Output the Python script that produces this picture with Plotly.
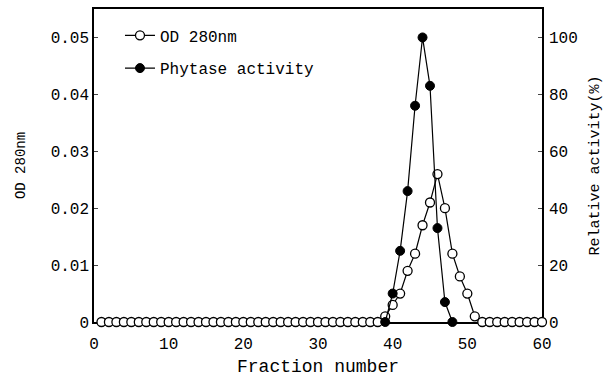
import plotly.graph_objects as go

fractions = list(range(1, 61))
od280 = [0.0] * 38 + [0.001, 0.003, 0.005, 0.009, 0.012, 0.017, 0.021, 0.026,
                      0.020, 0.012, 0.008, 0.005, 0.001] + [0.0] * 9
phy_fractions = [39, 40, 41, 42, 43, 44, 45, 46, 47, 48]
phytase = [0, 10, 25, 46, 76, 100, 83, 33, 7, 0]

FONT = "Liberation Mono"
fig = go.Figure()
fig.add_trace(go.Scatter(
    x=fractions, y=od280, name="OD 280nm", mode="lines+markers",
    line=dict(color="black", width=1.2),
    marker=dict(symbol="circle", size=9, color="white", line=dict(color="black", width=1.3)),
    cliponaxis=False, legendgroup="a"))
fig.add_trace(go.Scatter(
    x=phy_fractions, y=phytase, name="Phytase activity", mode="lines+markers",
    line=dict(color="black", width=1.2),
    marker=dict(symbol="circle", size=9, color="black", line=dict(color="black", width=1)),
    cliponaxis=False, yaxis="y2", legendgroup="b"))

axis_common = dict(showgrid=False, zeroline=False, showline=True, linecolor="black",
                   linewidth=1.5, tickfont=dict(family=FONT, size=16, color="black"))
fig.update_layout(
    width=607, height=381,
    margin=dict(l=94, r=64, t=7, b=59),
    paper_bgcolor="white", plot_bgcolor="white",
    font=dict(family=FONT, color="black"),
    xaxis=dict(range=[0, 60], dtick=10, ticks="", mirror=True, layer="below traces",
               ticklabelstandoff=6,
               title=dict(text="Fraction number", font=dict(family=FONT, size=18), standoff=6),
               **axis_common),
    yaxis=dict(range=[0, 0.055], tickvals=[0, 0.01, 0.02, 0.03, 0.04, 0.05],
               ticktext=["0", "0.01", "0.02", "0.03", "0.04", "0.05"],
               ticks="inside", ticklen=4, layer="below traces",
               title=dict(text="OD 280nm", font=dict(family=FONT, size=14), standoff=22),
               **axis_common),
    yaxis2=dict(range=[0, 110], tickvals=[0, 20, 40, 60, 80, 100], overlaying="y", side="right",
                ticks="inside", ticklen=4, layer="below traces", ticklabelstandoff=2,
                title=dict(text="Relative activity(%)", font=dict(family=FONT, size=15), standoff=12),
                **axis_common),
    legend=dict(x=0.058, y=0.97, xanchor="left", yanchor="top", bgcolor="rgba(0,0,0,0)",
                font=dict(family=FONT, size=16), traceorder="grouped", tracegroupgap=9),
    showlegend=True,
)
fig.write_html("out.html")
